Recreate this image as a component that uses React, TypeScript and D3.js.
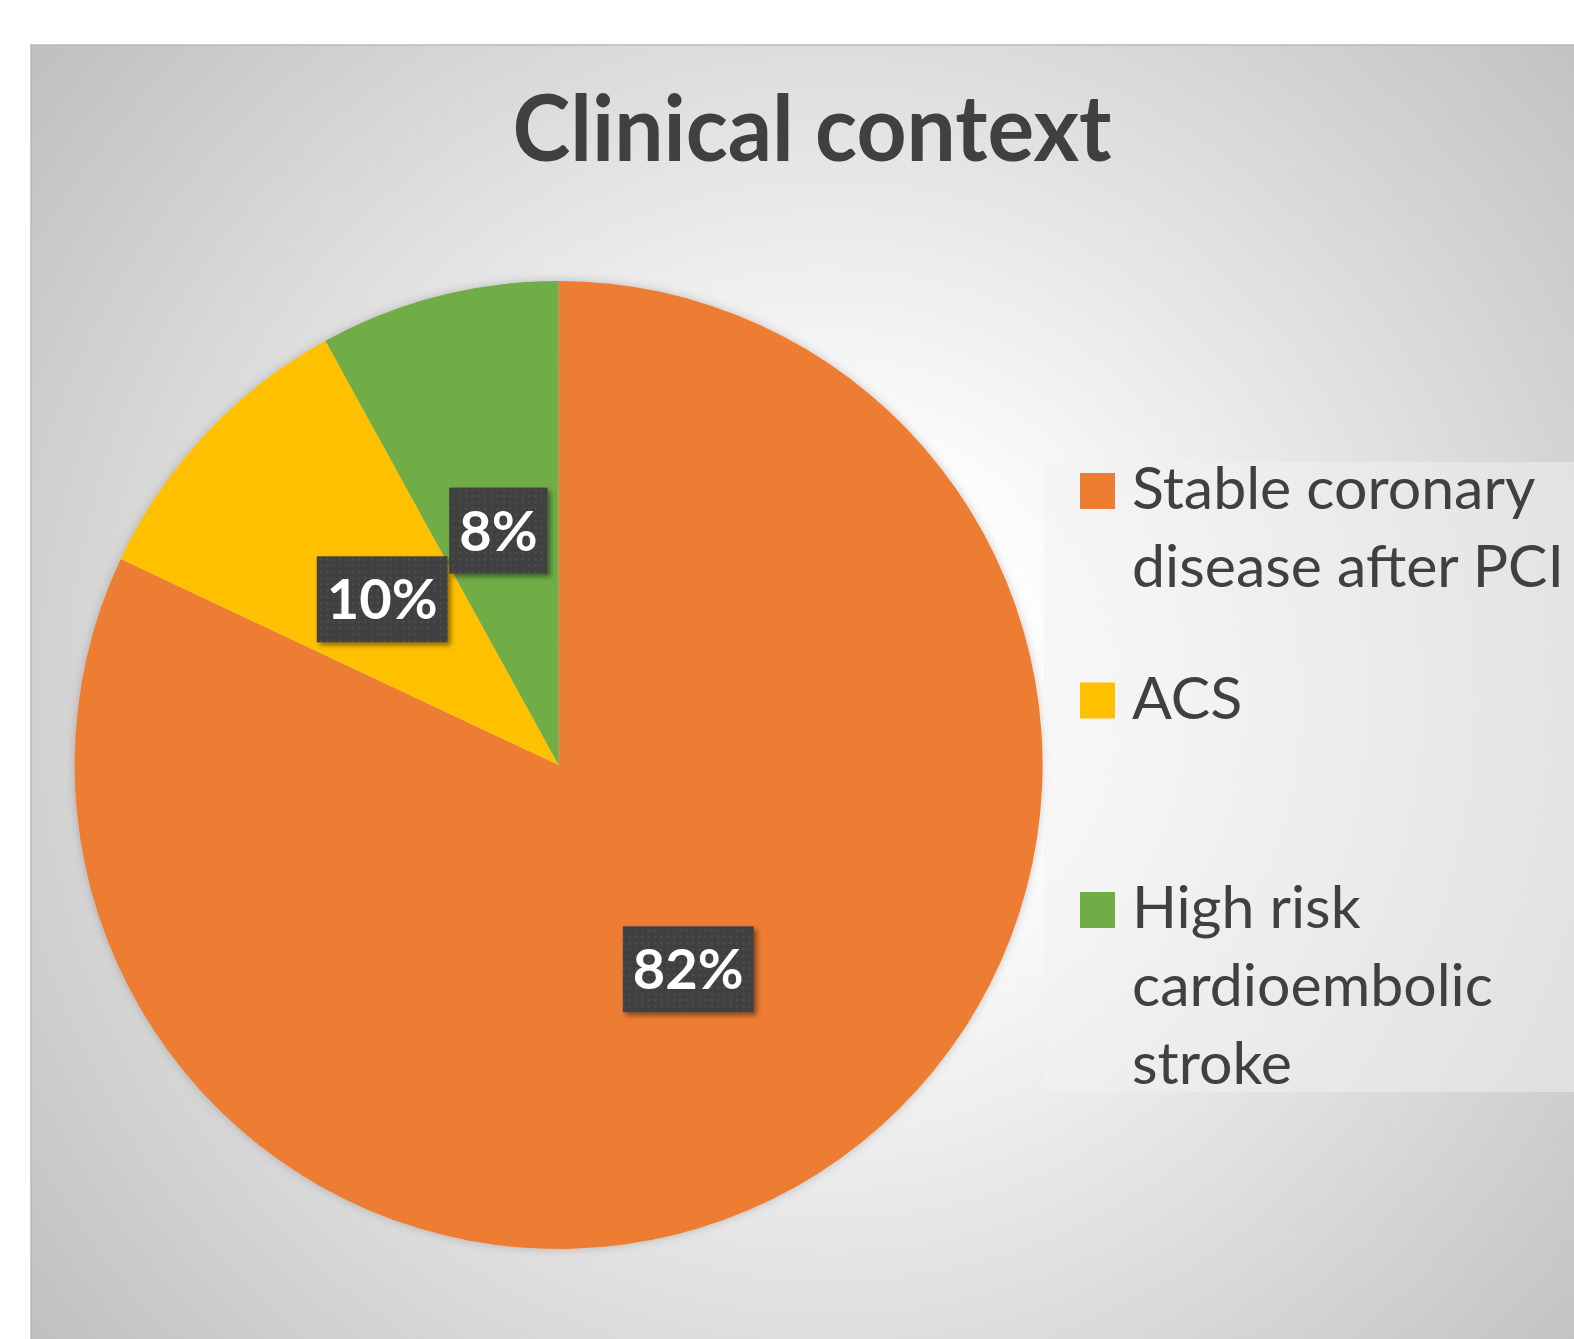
import React from "react";
import * as d3 from "d3";

const categories = ["Stable coronary disease after PCI", "ACS", "High risk cardioembolic stroke"];
const legendLines = [["Stable coronary", "disease after PCI"], ["ACS"], ["High risk", "cardioembolic", "stroke"]];
const values = [82, 10, 8];
const labels = ["82%", "10%", "8%"];
const colors = ["#ED7D31", "#FFC000", "#70AD47"];
const title = "Clinical context";

const W = 1574;
const H = 1339;

function measure(text: string, font: string): number {
  const c = document.createElement("canvas");
  const ctx = c.getContext("2d");
  if (!ctx) return text.length * 30;
  ctx.font = font;
  return ctx.measureText(text).width;
}

export default function App() {
  const cx = 558.6;
  const cy = 765;
  const r = 484;
  const pie = d3.pie<number>().sort(null).value((d) => d);
  const arcs = pie(values);
  const arc = d3.arc<d3.PieArcDatum<number>>().innerRadius(0).outerRadius(r);
  const labelFont = "bold 56px Lato";
  const legendX = 1080;
  const legendY0 = 509;
  const legendStep = 209.5;
  const lineH = 78;

  return (
    <svg width={W} height={H} style={{ position: "absolute", left: 0, top: 0, display: "block" }}
      fontFamily="Lato, 'Open Sans', sans-serif">
      <defs>
        <radialGradient id="bg" gradientUnits="userSpaceOnUse" cx={830} cy={700} r={1020}>
          <stop offset="0" stopColor="#ffffff" />
          <stop offset="0.25" stopColor="#fcfcfc" />
          <stop offset="1" stopColor="#c0c0c0" />
        </radialGradient>
        <pattern id="dots" width={6.3} height={6.3} patternUnits="userSpaceOnUse">
          <rect width={6.3} height={6.3} fill="#404040" />
          <rect x={1} y={1} width={2} height={2} fill="#4f4f4f" />
        </pattern>
        <filter id="boxShadow" x="-20%" y="-20%" width="150%" height="150%">
          <feDropShadow dx={3} dy={3} stdDeviation={2.5} floodColor="#000" floodOpacity={0.45} />
        </filter>
        <filter id="pieShadow" x="-10%" y="-10%" width="120%" height="120%">
          <feDropShadow dx={0} dy={0} stdDeviation={5} floodColor="#000" floodOpacity={0.2} />
        </filter>
      </defs>
      <rect x={31} y={45} width={W} height={H} fill="url(#bg)" stroke="#b9b9b9" strokeWidth={1.5} />
      <text x={812} y={160.5} textAnchor="middle" fontSize={91} fontWeight="bold" fill="#404040"
        textLength={599} lengthAdjust="spacingAndGlyphs">{title}</text>
      <g transform={`translate(${cx},${cy})`} filter="url(#pieShadow)">
        {arcs.map((a, i) => (
          <path key={categories[i]} d={arc(a) || ""} fill={colors[i]} />
        ))}
      </g>
      <g transform={`translate(${cx},${cy})`}>
        {arcs.map((a, i) => {
          const [lx, ly] = arc.centroid(a);
          const tw = measure(labels[i], labelFont);
          const bw = tw + 20;
          const bh = 86;
          return (
            <g key={labels[i]}>
              <rect x={lx - bw / 2} y={ly - bh / 2} width={bw} height={bh} fill="url(#dots)" filter="url(#boxShadow)" />
              <text x={lx} y={ly + 20} textAnchor="middle" fontSize={56} fontWeight="bold" fill="#ffffff">{labels[i]}</text>
            </g>
          );
        })}
      </g>
      <rect x={1044} y={462} width={W - 1044} height={630} fill="#f2f2f2" fillOpacity={0.5} />
      {categories.map((c, i) => {
        const y = legendY0 + i * legendStep;
        return (
          <g key={c}>
            <rect x={legendX} y={y - 36} width={35} height={36} fill={colors[i]} />
            {legendLines[i].map((ln, j) => (
              <text key={ln} x={1132} y={y + j * lineH} fontSize={59} fill="#404040">{ln}</text>
            ))}
          </g>
        );
      })}
    </svg>
  );
}
